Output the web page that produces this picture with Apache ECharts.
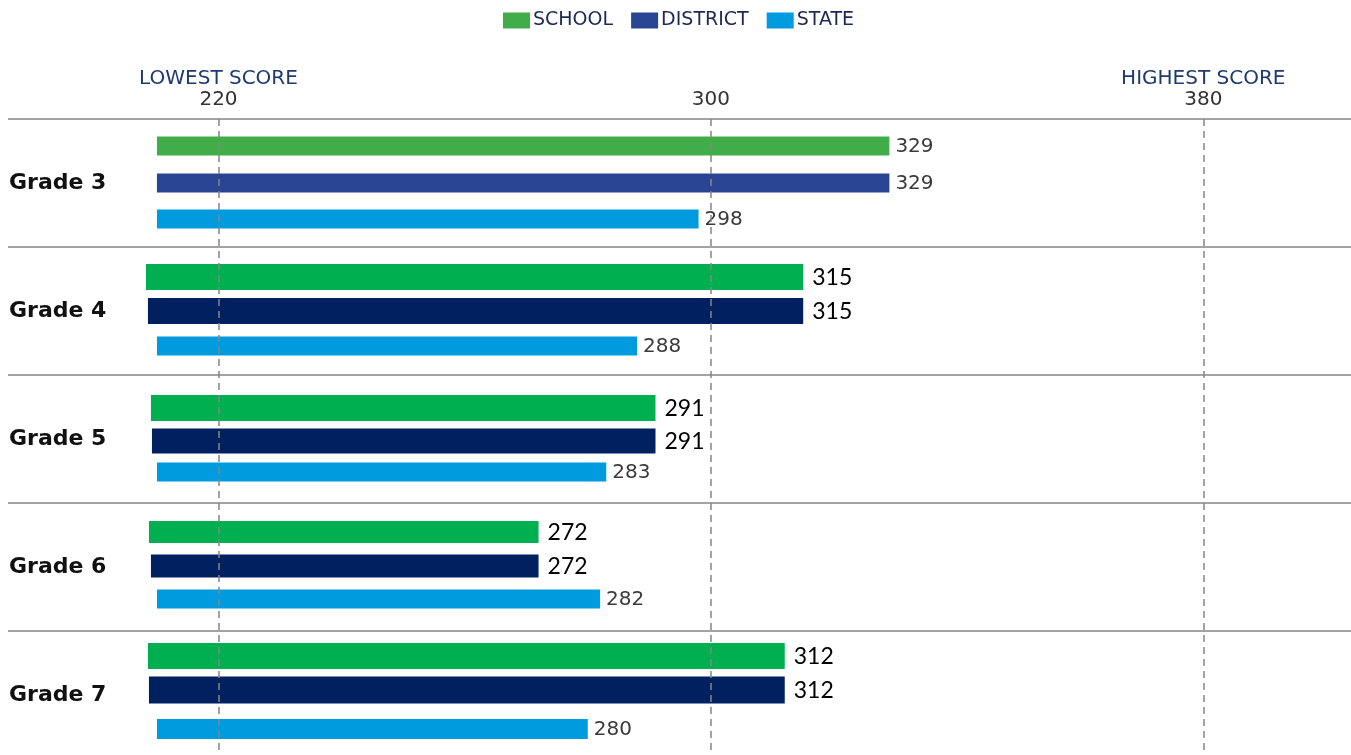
<!DOCTYPE html>
<html>
<head>
<meta charset="utf-8">
<script src="https://cdn.jsdelivr.net/npm/echarts@6/dist/echarts.min.js"></script>
<style>
  html, body { margin: 0; padding: 0; background: #fff; }
  #chart { width: 1351px; height: 755px; }
</style>
</head>
<body>
<div id="chart"></div>
<script>
// ---------- data ----------
const GRADES = ['Grade 3', 'Grade 4', 'Grade 5', 'Grade 6', 'Grade 7'];
const SCHOOL = [329, 315, 291, 272, 312];
const DISTRICT = [329, 315, 291, 272, 312];
const STATE = [298, 288, 283, 282, 280];
const TICKS = [220, 300, 380];
const TICK_CAPTIONS = { 220: 'LOWEST SCORE', 380: 'HIGHEST SCORE' };
const BAR_BASE = 210;
const SERIES_NAMES = ['SCHOOL', 'DISTRICT', 'STATE'];

// ---------- styles (per grade) ----------
const STYLE = {
  SCHOOL: {
    color: ['#41ad49', '#00b050', '#00b050', '#00b050', '#00b050'],
    off: [-37, -34, -31, -35, -39],
    h: [19, 26, 26, 22, 26],
    shift: [0, -11, -6, -8, -9],
    big: [false, true, true, true, true]
  },
  DISTRICT: {
    color: ['#2a4494', '#002060', '#002060', '#002060', '#002060'],
    off: [0, 0, 2, -1, -5],
    h: [19, 26, 25, 23, 27],
    shift: [0, -9, -5, -6, -8],
    big: [false, true, true, true, true]
  },
  STATE: {
    color: ['#009ade', '#009ade', '#009ade', '#009ade', '#009ade'],
    off: [36, 35, 33, 32, 34],
    h: [19, 19, 19, 19, 20],
    shift: [0, 0, 0, 0, 0],
    big: [false, false, false, false, false]
  }
};

function makeRender(key) {
  const s = STYLE[key];
  return function (params, api) {
    const val = api.value(0);
    const cat = api.value(1);
    const start = api.coord([BAR_BASE, cat]);
    const end = api.coord([val, cat]);
    const cy = start[1] + s.off[cat];
    const h = s.h[cat];
    const x0 = start[0] + s.shift[cat];
    const big = s.big[cat];
    return {
      type: 'group',
      children: [
        {
          type: 'rect',
          shape: { x: x0, y: cy - h / 2, width: end[0] - x0, height: h },
          style: { fill: s.color[cat] }
        },
        {
          type: 'text',
          style: {
            text: String(val),
            x: end[0] + (big ? 9 : 6),
            y: cy + 1,
            align: 'left',
            verticalAlign: 'middle',
            fontFamily: big ? 'Lato' : 'DejaVu Sans',
            fontSize: big ? 23 : 20,
            fill: big ? '#000000' : '#3a3a3a'
          }
        }
      ]
    };
  };
}

const chart = echarts.init(document.getElementById('chart'), null, { renderer: 'canvas' });

const seriesData = { SCHOOL: SCHOOL, DISTRICT: DISTRICT, STATE: STATE };

chart.setOption({
  animation: false,
  backgroundColor: '#ffffff',
  legend: {
    data: SERIES_NAMES,
    left: 503,
    top: 11,
    padding: 0,
    itemWidth: 27,
    itemHeight: 16,
    itemGap: 18,
    icon: 'rect',
    textStyle: { fontFamily: 'DejaVu Sans', fontSize: 19, color: '#1c2a52', padding: [0, 0, 0, -2] }
  },
  grid: { left: 8, right: 0, top: 119, height: 640, containLabel: false, outerBoundsMode: 'none' },
  xAxis: {
    type: 'value',
    position: 'top',
    min: 185.8,
    max: 404,
    z: 5,
    axisLine: { show: false },
    axisTick: { show: false, customValues: TICKS },
    axisLabel: {
      customValues: TICKS,
      margin: 9,
      formatter: function (v) {
        const cap = TICK_CAPTIONS[v];
        return cap ? '{c|' + cap + '}\n{v|' + v + '}' : '{v|' + v + '}';
      },
      rich: {
        c: { fontFamily: 'DejaVu Sans', fontSize: 20, color: '#1f3a6e', lineHeight: 21 },
        v: { fontFamily: 'DejaVu Sans', fontSize: 20, color: '#333333', lineHeight: 21 }
      }
    },
    splitLine: {
      show: true,
      lineStyle: { color: '#858585', width: 1.5, type: [7, 5] }
    }
  },
  yAxis: {
    type: 'category',
    data: GRADES,
    inverse: true,
    axisLine: { show: false },
    axisTick: { show: false },
    axisLabel: {
      inside: true,
      margin: 1,
      fontFamily: 'DejaVu Sans',
      fontWeight: 'bold',
      fontSize: 22,
      color: '#111111'
    },
    splitLine: { show: true, lineStyle: { color: '#a3a3a3', width: 2 } }
  },
  series: SERIES_NAMES.map(function (name) {
    return {
      name: name,
      type: 'custom',
      renderItem: makeRender(name),
      itemStyle: { color: STYLE[name].color[0] },
      encode: { x: 0, y: 1 },
      data: seriesData[name].map(function (v, i) { return [v, i]; }),
      z: 2
    };
  })
});
</script>
</body>
</html>
